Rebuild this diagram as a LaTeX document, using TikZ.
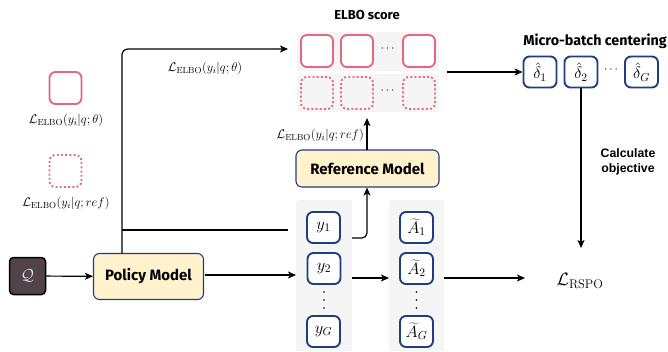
\RequirePackage{fix-cm}
\documentclass[tikz,border=0pt]{standalone}
\usepackage{fontspec}
\usetikzlibrary{arrows.meta,positioning}
\newfontfamily\comicf{Fira Sans}
\newfontfamily\helvf{Liberation Sans}
\definecolor{pinkc}{HTML}{E06A7B}
\definecolor{navyc}{HTML}{1E3F7E}
\definecolor{yellc}{HTML}{FFF2CC}
\definecolor{qfill}{HTML}{504349}
\definecolor{panelc}{HTML}{F5F5F5}
\tikzset{
  x=1pt,y=-1pt,
  panel/.style={fill=panelc,draw=none,rounded corners=2pt},
  pinkbox/.style={draw=pinkc,line width=1.9pt,rounded corners=6pt,fill=white,minimum width=32pt,minimum height=32pt,inner sep=0pt},
  pinkdot/.style={draw=pinkc,line width=1.9pt,dash pattern=on 1.9pt off 2.3pt,rounded corners=6pt,minimum width=32pt,minimum height=32pt,inner sep=0pt},
  bluebox/.style={draw=navyc,line width=1.9pt,rounded corners=6pt,fill=white,minimum width=33pt,minimum height=31pt,inner sep=0pt,font=\fontsize{16.5}{18}\selectfont},
  model/.style={draw=navyc,line width=1.1pt,fill=yellc,rounded corners=6pt,inner sep=0pt,font=\comicf\bfseries\fontsize{15}{17}\selectfont},
  mlab/.style={font=\fontsize{12.5}{15}\selectfont,inner sep=1pt},
  ttl/.style={font=\comicf\bfseries\fontsize{13}{15}\selectfont,inner sep=1pt},
  arr/.style={line width=1.2pt,-{Stealth[length=8pt,width=7pt,inset=2pt]}},
  ln/.style={line width=1.2pt},
  dot/.style={circle,fill=black,inner sep=0pt,minimum size=1.7pt}
}
\begin{document}
\begin{tikzpicture}
\useasboundingbox (0,0) rectangle (668,351);
% legend
\node[pinkbox] (leg1) at (65.5,88) {};
\node[mlab] (leg1l) at (66,120) {$\mathcal{L}_{\mathrm{ELBO}}(y_i|q;\theta)$};
\node[pinkdot] (leg2) at (65.5,171) {};
\node[mlab] (leg2l) at (66,203) {$\mathcal{L}_{\mathrm{ELBO}}(y_i|q;ref)$};
% Q and policy
\node[draw=black,line width=1.5pt,fill=qfill,rounded corners=4pt,minimum width=36pt,minimum height=37pt,inner sep=0pt,text=white!88!black,font=\fontsize{16}{18}\selectfont] (Q) at (27.5,276) {$\mathcal{Q}$};
\node[model,minimum width=110pt,minimum height=46pt] (pol) at (148.5,276.5) {Policy Model};
% panels
\node[panel,minimum width=56pt,minimum height=151pt,inner sep=0pt,anchor=north west] (yp) at (296,200) {};
\node[panel,minimum width=55pt,minimum height=151pt,inner sep=0pt,anchor=north west] (ap) at (389,200) {};
\node[panel,minimum width=142pt,minimum height=39pt,inner sep=0pt,anchor=north west] (ep1) at (297,32) {};
\node[panel,minimum width=142pt,minimum height=38pt,inner sep=0pt,anchor=north west] (ep2) at (297,74) {};
% y column
\node[bluebox] (y1) at (323.5,227.5) {$y_1$};
\node[bluebox] (y2) at (324,268.5) {$y_2$};
\node[bluebox] (yG) at (323.5,331.5) {$y_G$};
\node[dot] (yd1) at (324,292) {};
\node[dot] (yd2) at (324,300) {};
\node[dot] (yd3) at (324,308) {};
% A column
\node[bluebox] (A1) at (416.5,227.5) {$\widetilde{A}_1$};
\node[bluebox] (A2) at (416.5,268.5) {$\widetilde{A}_2$};
\node[bluebox] (AG) at (416.5,331.5) {$\widetilde{A}_G$};
\node[dot] (ad1) at (416.5,292) {};
\node[dot] (ad2) at (416.5,300) {};
\node[dot] (ad3) at (416.5,308) {};
% reference model
\node[model,minimum width=143pt,minimum height=37pt] (ref) at (367.5,168.5) {Reference Model};
% ELBO boxes
\node[ttl] (elbot) at (367,15) {ELBO score};
\node[pinkbox] (e1) at (317,51) {};
\node[pinkbox] (e2) at (357,51) {};
\node[pinkbox] (e3) at (419,51) {};
\node[font=\fontsize{12}{14}\selectfont] (edots) at (387.5,49) {$\cdots$};
\node[pinkdot] (f1) at (317,93) {};
\node[pinkdot] (f2) at (357,93) {};
\node[pinkdot] (f3) at (419,93) {};
\node[font=\fontsize{12}{14}\selectfont] (fdots) at (387.5,91) {$\cdots$};
% delta boxes
\node[ttl,font=\comicf\bfseries\fontsize{14.3}{16}\selectfont] (mbt) at (595,41) {Micro-batch centering};
\node[bluebox] (d1) at (540,72) {$\hat{\delta}_1$};
\node[bluebox] (d2) at (581,72) {$\hat{\delta}_2$};
\node[bluebox] (dG) at (641.5,72) {$\hat{\delta}_G$};
\node[font=\fontsize{12}{14}\selectfont] (ddots) at (611,70) {$\cdots$};
% objective
\node[font=\fontsize{18}{20}\selectfont,inner sep=1pt] (rspo) at (580,281) {$\mathcal{L}_{\mathrm{RSPO}}$};
\node[font=\helvf\bfseries\fontsize{12.3}{15}\selectfont,align=center,inner sep=1pt] (calc) at (628,162) {Calculate\\objective};
% coordinates
\coordinate (vbot) at (122,253);
\coordinate (vtop) at (122,49);
\coordinate (vmid) at (122,230);
\coordinate (etgt) at (288,49);
\coordinate (ytgt) at (288,230);
\coordinate (refa) at (367,238);
\coordinate (reftop) at (367,149.5);
\coordinate (ebot) at (367,118);
\coordinate (py) at (205,275);
\coordinate (pyt) at (296,275);
\coordinate (ya) at (352,278);
\coordinate (yat) at (389,278);
\coordinate (ar) at (444,278);
\coordinate (art) at (525,278);
\coordinate (ed) at (447,72);
\coordinate (dr) at (581,248);
\coordinate (ys) at (352,238);
% connectors
\draw[arr] (Q) -- (pol);
\draw[arr] (py) -- (pyt);
\draw[arr,rounded corners=6pt] (vbot) -- (vtop) -- (etgt);
\draw[ln] (vmid) -- (ytgt);
\draw[arr,rounded corners=5pt] (ys) -- (refa) -- (ref.south -| refa);
\draw[arr] (reftop) -- (ebot);
\node[mlab,anchor=east] (reflab) at (365,135) {$\mathcal{L}_{\mathrm{ELBO}}(y_i|q;ref)$};
\node[mlab] (thlab) at (205,68) {$\mathcal{L}_{\mathrm{ELBO}}(y_i|q;\theta)$};
\draw[arr] (ya) -- (yat);
\draw[arr] (ar) -- (art);
\draw[arr] (ed) -- (d1);
\draw[arr] (d2) -- (dr);
\end{tikzpicture}
\end{document}
